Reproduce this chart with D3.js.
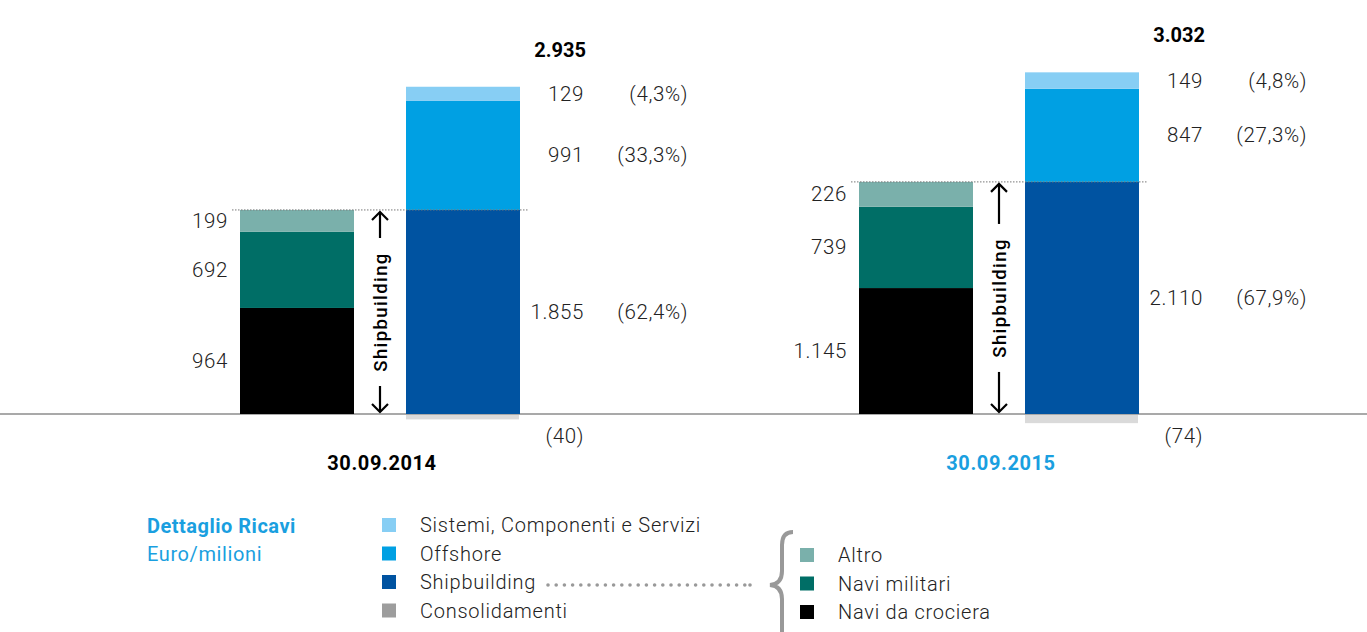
<!DOCTYPE html>
<html><head><meta charset="utf-8">
<script src="https://cdn.jsdelivr.net/npm/d3@7"></script>
<style>
body{margin:0;background:#fff;}
text{font-family:Roboto,"Noto Sans",sans-serif;}
</style></head>
<body><svg id="c" width="1367" height="632"></svg>
<script>
// ---- data ----
const categories = ["30.09.2014", "30.09.2015"];
const sistemi = [129, 149];          // Sistemi, Componenti e Servizi
const offshore = [991, 847];
const shipbuilding = [1855, 2110];
const consolidamenti = [-40, -74];
const totals = [2935, 3032];
const pctSistemi = [4.3, 4.8];
const pctOffshore = [33.3, 27.3];
const pctShipbuilding = [62.4, 67.9];
const naviCrociera = [964, 1145];
const naviMilitari = [692, 739];
const altro = [199, 226];
const legendMain = ["Sistemi, Componenti e Servizi", "Offshore", "Shipbuilding", "Consolidamenti"];
const legendSub = ["Altro", "Navi militari", "Navi da crociera"];

// ---- styles ----
const C = {sis:"#87cef4", off:"#00a0e3", ship:"#0053a1", cons:"#dadada", consLeg:"#9d9d9d",
           altro:"#7ab0ab", mil:"#006e66", croc:"#000000", blue:"#1a9fe0"};
const svg = d3.select("#c");
const loc = d3.formatLocale({decimal:",", thousands:".", grouping:[3], currency:["","€"]});
const fInt = loc.format(",d");
const fPct = loc.format(".1f");

const x = d3.scalePoint().domain(categories).range([380, 999]);
const y = d3.scaleLinear().domain([0, 3200]).range([414, 62]);
const BW = 114;

function num(sel){
  return sel.attr("font-size",20.5).attr("font-weight",300).attr("fill","#222")
    .attr("letter-spacing","0.6px");
}

// axis line
svg.append("line").attr("x1",0).attr("x2",1367).attr("y1",y(0)).attr("y2",y(0))
  .attr("stroke","#555").attr("stroke-width",1.2);

categories.forEach((cat, i) => {
  const c = x(cat);
  const lx = c - 140, rx = c + 26;
  // right stacked bar
  const rs = [
    {v: shipbuilding[i], col: C.ship},
    {v: offshore[i], col: C.off},
    {v: sistemi[i], col: C.sis}
  ];
  let acc = 0;
  const rMids = [];
  rs.forEach(s => {
    svg.append("rect").attr("x", rx).attr("width", BW)
      .attr("y", y(acc + s.v)).attr("height", y(acc) - y(acc + s.v)).attr("fill", s.col);
    rMids.push((y(acc) + y(acc + s.v)) / 2);
    acc += s.v;
  });
  const rTop = y(acc);
  // consolidation below axis
  svg.append("rect").attr("x", rx).attr("width", BW - 1)
    .attr("y", y(0) + 1).attr("height", y(consolidamenti[i]) - y(0)).attr("fill", C.cons);

  // left stacked bar
  const ls = [
    {v: naviCrociera[i], col: C.croc},
    {v: naviMilitari[i], col: C.mil},
    {v: altro[i], col: C.altro}
  ];
  acc = 0;
  ls.forEach(s => {
    svg.append("rect").attr("x", lx).attr("width", BW)
      .attr("y", y(acc + s.v)).attr("height", y(acc) - y(acc + s.v)).attr("fill", s.col);
    num(svg.append("text").attr("x", lx - 12).attr("y", (y(acc) + y(acc + s.v)) / 2 + 7)
      .attr("text-anchor","end")).text(fInt(s.v));
    acc += s.v;
  });

  // dotted reference line at shipbuilding top
  const sbTop = y(shipbuilding[i]);
  svg.append("line").attr("x1", lx - 8).attr("x2", rx + BW + 8).attr("y1", sbTop).attr("y2", sbTop)
    .attr("stroke","#777").attr("stroke-width",1).attr("stroke-dasharray","1.5,1.5");

  // right value labels
  const vals = [shipbuilding[i], offshore[i], sistemi[i]];
  const pcts = [pctShipbuilding[i], pctOffshore[i], pctSistemi[i]];
  vals.forEach((v, k) => {
    num(svg.append("text").attr("x", c + 204).attr("y", rMids[k] + 7)
      .attr("text-anchor","end")).text(fInt(v));
    num(svg.append("text").attr("x", c + 308).attr("y", rMids[k] + 7)
      .attr("text-anchor","end")).text("(" + fPct(pcts[k]) + "%)");
  });
  // consolidation label
  num(svg.append("text").attr("x", c + 204).attr("y", 443)
    .attr("text-anchor","end")).text("(" + fInt(Math.abs(consolidamenti[i])) + ")");
  // total
  svg.append("text").attr("x", c + 206).attr("y", rTop - 30)
    .attr("text-anchor","end").attr("font-size",20).attr("font-weight",700).attr("fill","#000")
    .text(fInt(totals[i]));
  // category label
  svg.append("text").attr("x", c + 2).attr("y", 470)
    .attr("text-anchor","middle").attr("font-size",20).attr("font-weight",700)
    .attr("letter-spacing","0.6px")
    .attr("fill", i === 0 ? "#000" : C.blue).text(cat);

  // Shipbuilding arrow
  const mid = (sbTop + y(0)) / 2;
  const half = 62;
  svg.append("text").attr("transform", `translate(${c + 7},${mid}) rotate(-90)`)
    .attr("text-anchor","middle").attr("font-size",18.5).attr("font-weight",500)
    .attr("letter-spacing","1.4px")
    .attr("fill","#000").text("Shipbuilding");
  const ax = c;
  const g = svg.append("g").attr("stroke","#000").attr("stroke-width",2.2).attr("fill","none");
  g.append("line").attr("x1",ax).attr("x2",ax).attr("y1",sbTop + 2).attr("y2",mid - half - 12);
  g.append("path").attr("d",`M${ax-8},${sbTop+10}L${ax},${sbTop+2}L${ax+8},${sbTop+10}`);
  g.append("line").attr("x1",ax).attr("x2",ax).attr("y1",mid + half + 12).attr("y2",y(0) - 2);
  g.append("path").attr("d",`M${ax-8},${y(0)-10}L${ax},${y(0)-2}L${ax+8},${y(0)-10}`);
});

// ---- legend ----
svg.append("text").attr("x",147).attr("y",533).attr("font-size",20).attr("font-weight",700)
  .attr("letter-spacing","0.5px").attr("fill",C.blue).text("Dettaglio Ricavi");
svg.append("text").attr("x",147).attr("y",561).attr("font-size",20).attr("font-weight",400)
  .attr("letter-spacing","0.6px").attr("fill",C.blue).text("Euro/milioni");

const mainCols = [C.sis, C.off, C.ship, C.consLeg];
legendMain.forEach((lab, i) => {
  const yy = 525 + i * 28.5;
  svg.append("rect").attr("x",382).attr("y",yy - 7).attr("width",14).attr("height",14).attr("fill",mainCols[i]);
  svg.append("text").attr("x",420).attr("y",yy + 7).attr("font-size",20).attr("font-weight",300)
    .attr("letter-spacing","0.75px").attr("fill","#222").text(lab);
});
// dotted leader from Shipbuilding to brace
const dots = d3.range(548, 745, 8.2);
svg.selectAll("circle.ld").data(dots.concat([750])).enter().append("circle")
  .attr("cx", d => d).attr("cy", 585).attr("r", 1.8).attr("fill","#999");
// brace
svg.append("path")
  .attr("d","M793,532 Q782,532 782,545 L782,571 Q782,584 770,585 Q782,586 782,599 L782,640")
  .attr("stroke","#999").attr("stroke-width",4).attr("fill","none");

const subCols = [C.altro, C.mil, C.croc];
legendSub.forEach((lab, i) => {
  const yy = 555 + i * 28.5;
  svg.append("rect").attr("x",800).attr("y",yy - 7).attr("width",14).attr("height",14).attr("fill",subCols[i]);
  svg.append("text").attr("x",838).attr("y",yy + 7).attr("font-size",20).attr("font-weight",300)
    .attr("letter-spacing","0.75px").attr("fill","#222").text(lab);
});
</script></body></html>
